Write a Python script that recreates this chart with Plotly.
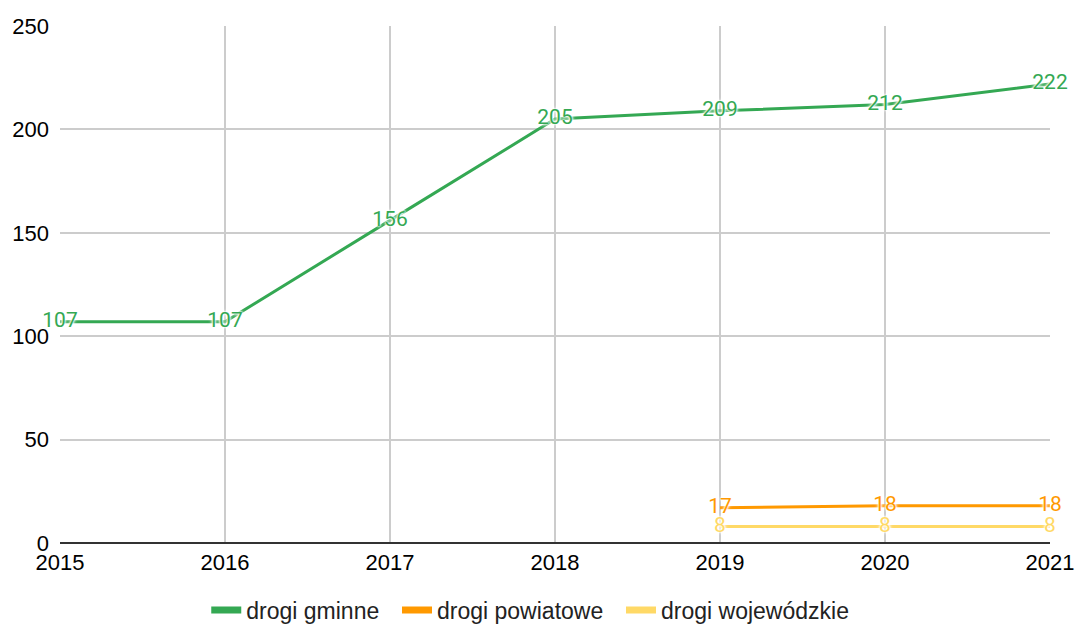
import plotly.graph_objects as go

years = [2015, 2016, 2017, 2018, 2019, 2020, 2021]
gminne = [107, 107, 156, 205, 209, 212, 222]
powiat_years = [2019, 2020, 2021]
powiatowe = [17, 18, 18]
wojewodzkie = [8, 8, 8]

series = [
    ("drogi gminne", years, gminne, "#34a853"),
    ("drogi powiatowe", powiat_years, powiatowe, "#ff9900"),
    ("drogi wojewódzkie", powiat_years, wojewodzkie, "#ffd966"),
]

FONT = "Liberation Sans, Arial"
fig = go.Figure()
for name, xs, ys, col in series:
    fig.add_trace(go.Scatter(
        x=xs, y=ys, name=name, mode="lines+text",
        line=dict(color=col, width=3),
        text=[str(v) for v in ys], textposition="middle center",
        textfont=dict(color=col, size=21, family="Roboto, " + FONT,
                      shadow="0px 0px 2px white, 0px 0px 2px white, 0px 0px 3px white, 0px 0px 4px white"),
        cliponaxis=False, showlegend=False,
    ))
for i, (name, xs, ys, col) in enumerate(series):
    pad = "\u00a0\u00a0" if i < len(series) - 1 else ""
    fig.add_trace(go.Scatter(
        x=[None], y=[None], name=name + pad, mode="lines",
        line=dict(color=col, width=7), showlegend=True,
    ))

fig.update_layout(
    width=1075, height=650,
    margin=dict(l=60, r=25, t=26, b=107, autoexpand=False),
    plot_bgcolor="white", paper_bgcolor="white",
    font=dict(family=FONT, size=22, color="#000"),
    legend=dict(orientation="h", x=0.475, xanchor="center", y=-0.088, yanchor="top",
                font=dict(size=23, color="#222"), itemwidth=30),
)
fig.update_xaxes(range=[2015, 2021], tickmode="array", tickvals=years,
                 showgrid=True, gridcolor="#cccccc", gridwidth=2,
                 zeroline=False, showline=False, ticks="", ticklabelstandoff=4,
                 automargin=False)
fig.update_yaxes(range=[0, 250], tickvals=[0, 50, 100, 150, 200, 250],
                 showgrid=True, gridcolor="#cccccc", gridwidth=2,
                 zeroline=True, zerolinecolor="#333333", zerolinewidth=2,
                 ticks="", ticklabelstandoff=10, automargin=False)

fig.write_html("out.html", config={"displayModeBar": False},
               post_script="document.body.style.margin='0';document.body.style.overflow='hidden';document.documentElement.style.overflow='hidden';")
